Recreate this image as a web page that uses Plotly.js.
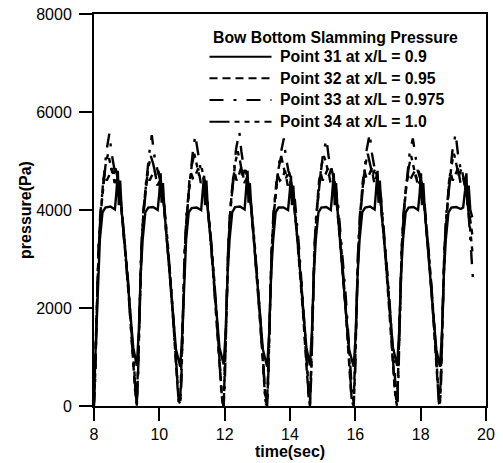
<!DOCTYPE html>
<html>
<head>
<meta charset="utf-8">
<script src="https://cdn.plot.ly/plotly-3.0.1.min.js"></script>
<style>html,body{margin:0;padding:0;background:#fff;}#chart{width:503px;height:463px;}</style>
</head>
<body>
<div id="chart"></div>
<script>
// Point 31 at x/L = 0.9 (solid)
var t31 = [8.00,8.06,8.12,8.18,8.26,8.35,8.50,8.64,8.69,8.73,8.76,8.80,8.85,8.95,9.08,9.20,
9.31,9.37,9.43,9.49,9.57,9.66,9.81,9.95,10.00,10.04,10.07,10.11,10.16,10.26,10.39,10.51,
10.64,10.70,10.76,10.82,10.90,10.99,11.14,11.28,11.33,11.37,11.40,11.44,11.49,11.59,11.72,11.84,
11.97,12.03,12.09,12.15,12.23,12.32,12.47,12.61,12.66,12.70,12.73,12.77,12.82,12.92,13.05,13.17,
13.30,13.36,13.42,13.48,13.56,13.65,13.80,13.94,13.99,14.03,14.06,14.10,14.15,14.25,14.38,14.50,
14.61,14.67,14.73,14.79,14.87,14.96,15.11,15.25,15.30,15.34,15.37,15.41,15.46,15.56,15.69,15.81,
15.95,16.01,16.07,16.13,16.21,16.30,16.45,16.59,16.64,16.68,16.71,16.75,16.80,16.90,17.03,17.15,
17.28,17.34,17.40,17.46,17.54,17.63,17.78,17.92,17.97,18.01,18.04,18.08,18.13,18.23,18.36,18.48,
18.59,18.65,18.71,18.77,18.85,18.94,19.09,19.23,19.30,19.36,19.40,19.43,19.47,19.52,19.58];
var p31 = [300,1400,2700,3400,3950,4050,4070,4010,4400,4800,4100,4600,3950,3250,2150,1200,
820,1500,2700,3400,3950,4050,4060,4000,4350,4750,4150,4550,3950,3200,2100,1150,
800,1450,2650,3400,3950,4040,4050,4000,4400,4700,4100,4600,3950,3250,2150,1200,
850,1500,2700,3400,3950,4060,4070,4010,4450,4800,4150,4550,4000,3200,2100,1150,
800,1450,2650,3350,3950,4050,4050,4000,4350,4700,4100,4500,3950,3250,2150,1200,
830,1500,2700,3400,3950,4050,4060,4000,4400,4750,4100,4550,3950,3200,2100,1150,
800,1450,2700,3400,3950,4050,4070,4010,4400,4800,4150,4600,3950,3250,2150,1200,
820,1500,2700,3400,3950,4050,4060,4000,4350,4750,4100,4550,3950,3200,2100,1150,
800,1450,2700,3400,3950,4050,4060,4020,4050,4400,4750,4100,4500,4000,3850];

// Point 32 at x/L = 0.95 (dashed)
var t32 = [8.00,8.05,8.10,8.15,8.21,8.28,8.33,8.39,8.46,8.55,8.63,8.71,8.80,8.90,9.00,9.10,9.19,9.26,
9.31,9.36,9.41,9.46,9.52,9.59,9.64,9.70,9.77,9.86,9.94,10.02,10.11,10.21,10.31,10.41,10.50,10.57,
10.64,10.69,10.74,10.79,10.85,10.92,10.97,11.03,11.10,11.19,11.27,11.35,11.44,11.54,11.64,11.74,11.83,11.90,
11.97,12.02,12.07,12.12,12.18,12.25,12.30,12.36,12.43,12.52,12.60,12.68,12.77,12.87,12.97,13.07,13.16,13.23,
13.30,13.35,13.40,13.45,13.51,13.58,13.63,13.69,13.76,13.85,13.93,14.01,14.10,14.20,14.30,14.40,14.49,14.56,
14.61,14.66,14.71,14.76,14.82,14.89,14.94,15.00,15.07,15.16,15.24,15.32,15.41,15.51,15.61,15.71,15.80,15.87,
15.95,16.00,16.05,16.10,16.16,16.23,16.28,16.34,16.41,16.50,16.58,16.66,16.75,16.85,16.95,17.05,17.14,17.21,
17.28,17.33,17.38,17.43,17.49,17.56,17.61,17.67,17.74,17.83,17.91,17.99,18.08,18.18,18.28,18.38,18.47,18.54,
18.59,18.64,18.69,18.74,18.80,18.87,18.92,18.98,19.05,19.14,19.22,19.30,19.39,19.49,19.58];
var p32 = [100,1000,2300,3300,4000,4600,4750,4600,4700,4850,4550,4650,4300,3600,2800,1900,1000,300,
50,1050,2300,3300,4000,4550,4700,4600,4700,4800,4500,4600,4300,3600,2800,1900,950,250,
100,1000,2250,3300,4000,4600,4750,4650,4700,4850,4550,4650,4300,3650,2800,1900,1000,300,
0,950,2300,3300,4050,4600,4800,4600,4700,4900,4550,4650,4300,3600,2800,1850,1000,250,
100,1000,2300,3250,4000,4550,4700,4600,4650,4800,4500,4600,4250,3600,2800,1900,950,300,
50,1000,2300,3300,4000,4600,4750,4600,4700,4850,4550,4650,4300,3600,2750,1900,1000,250,
100,1050,2300,3300,4000,4600,4800,4650,4700,4850,4550,4700,4300,3650,2800,1900,1000,300,
50,1000,2300,3300,4000,4550,4700,4600,4700,4800,4500,4600,4300,3600,2800,1850,950,250,
100,1000,2300,3300,4000,4600,4750,4600,4700,4850,4550,4650,4400,3900,3500];

// Point 33 at x/L = 0.975 (long dash - dot)
var t33 = [8.00,8.04,8.08,8.13,8.19,8.28,8.38,8.47,8.54,8.62,8.72,8.82,8.94,9.06,9.16,9.24,9.29,
9.31,9.35,9.39,9.44,9.50,9.59,9.69,9.77,9.85,9.93,10.03,10.13,10.25,10.37,10.47,10.55,10.60,
10.64,10.68,10.72,10.77,10.83,10.92,11.02,11.10,11.18,11.26,11.36,11.46,11.58,11.70,11.80,11.88,11.93,
11.97,12.01,12.05,12.10,12.16,12.25,12.35,12.45,12.51,12.59,12.69,12.79,12.91,13.03,13.13,13.21,13.26,
13.30,13.34,13.38,13.43,13.49,13.58,13.70,13.81,13.87,13.95,14.05,14.15,14.27,14.39,14.48,14.55,14.58,
14.61,14.65,14.69,14.74,14.80,14.89,15.01,15.12,15.18,15.26,15.36,15.46,15.58,15.70,15.80,15.88,15.92,
15.95,15.99,16.03,16.08,16.14,16.23,16.34,16.44,16.51,16.59,16.69,16.79,16.91,17.03,17.13,17.21,17.25,
17.28,17.32,17.36,17.41,17.47,17.56,17.66,17.76,17.83,17.91,18.01,18.11,18.23,18.35,18.45,18.52,18.56,
18.59,18.63,18.67,18.72,18.78,18.87,18.97,19.07,19.14,19.22,19.32,19.42,19.50,19.60];
var p33 = [0,600,1800,3100,3900,4500,5200,5560,5150,4850,4650,4200,3300,2300,1300,500,80,
0,650,1850,3100,3900,4500,5150,5525,5100,4850,4600,4200,3250,2300,1300,450,50,
0,600,1800,3050,3900,4500,5150,5525,5150,4850,4650,4250,3300,2300,1350,500,80,
0,600,1800,3100,3950,4550,5250,5590,5200,4850,4650,4200,3300,2300,1300,500,50,
0,600,1750,3100,3900,4500,5100,5460,5100,4800,4600,4200,3300,2250,1300,450,80,
0,600,1800,3100,3900,4500,5150,5440,5100,4800,4600,4200,3250,2300,1300,500,50,
0,650,1800,3100,3900,4500,5200,5560,5150,4850,4650,4250,3300,2300,1300,500,80,
0,600,1800,3050,3900,4500,5150,5460,5100,4800,4600,4200,3300,2300,1300,450,50,
0,600,1800,3100,3900,4500,5200,5560,5150,4850,4650,4400,3500,2600];

// Point 34 at x/L = 1.0 (long dash - dot dot dot)
var t34 = [8.00,8.04,8.09,8.14,8.20,8.27,8.35,8.43,8.50,8.58,8.66,8.74,8.84,8.95,9.05,9.14,9.22,9.28,
9.31,9.35,9.40,9.45,9.51,9.58,9.66,9.74,9.81,9.89,9.97,10.05,10.15,10.26,10.36,10.45,10.53,10.59,
10.64,10.68,10.73,10.78,10.84,10.91,10.99,11.07,11.14,11.22,11.30,11.38,11.48,11.59,11.69,11.78,11.86,11.92,
11.97,12.01,12.06,12.11,12.17,12.24,12.32,12.40,12.47,12.55,12.63,12.71,12.81,12.92,13.02,13.11,13.19,13.25,
13.30,13.34,13.39,13.44,13.50,13.57,13.65,13.73,13.80,13.88,13.96,14.04,14.14,14.25,14.35,14.44,14.52,14.58,
14.61,14.65,14.70,14.75,14.81,14.88,14.96,15.04,15.11,15.19,15.27,15.35,15.45,15.56,15.66,15.75,15.83,15.89,
15.95,15.99,16.04,16.09,16.15,16.22,16.30,16.38,16.45,16.53,16.61,16.69,16.79,16.90,17.00,17.09,17.17,17.23,
17.28,17.32,17.37,17.42,17.48,17.55,17.63,17.71,17.78,17.86,17.94,18.02,18.12,18.23,18.33,18.42,18.50,18.56,
18.59,18.63,18.68,18.73,18.79,18.86,18.94,19.02,19.09,19.17,19.25,19.33,19.43,19.52,19.59];
var p34 = [50,700,2000,3200,3900,4400,4900,5150,4950,4700,4850,4600,4100,3300,2500,1600,800,150,
0,700,2000,3200,3900,4400,4850,5100,4950,4700,4800,4550,4100,3300,2500,1600,750,100,
50,700,1950,3200,3900,4400,4900,5150,4950,4700,4850,4600,4100,3350,2500,1600,800,150,
0,750,2000,3250,3950,4450,4950,5200,5000,4700,4850,4600,4100,3300,2450,1600,800,100,
50,700,2000,3200,3900,4400,4850,5100,4900,4650,4800,4550,4100,3300,2500,1550,750,150,
0,700,2000,3200,3900,4400,4900,5100,4950,4700,4850,4600,4100,3300,2500,1600,800,100,
50,700,2000,3200,3900,4400,4900,5150,4950,4700,4850,4600,4150,3300,2500,1600,800,150,
0,700,1950,3200,3900,4400,4850,5100,4900,4650,4800,4550,4100,3300,2450,1600,750,100,
50,700,2000,3200,3900,4400,4900,5150,4950,4700,4850,4600,4200,3600,3100];

var seriesNames = ['Point 31 at x/L = 0.9','Point 32 at x/L = 0.95','Point 33 at x/L = 0.975','Point 34 at x/L = 1.0'];
var legendTitle = 'Bow Bottom Slamming Pressure';
var xTicks = [8,10,12,14,16,18,20];
var yTicks = [0,2000,4000,6000,8000];

var dashes = ['solid','8px,5px','14px,10px,3px,10px','20px,5px,5px,5px,5px,5px,5px,5px'];
var xs = [t31,t32,t33,t34];
var ys = [p31,p32,p33,p34];

var FONT = 'Liberation Sans, Arial, Helvetica, sans-serif';
var traces = [];
for (var i = 0; i < 4; i++) {
  traces.push({
    x: xs[i], y: ys[i], type: 'scatter', mode: 'lines', name: seriesNames[i],
    line: {color: '#000', width: 2.4, dash: dashes[i]}, showlegend: false, hoverinfo: 'skip'
  });
}

// manual legend (positions in paper units)
var L = 94, T = 14, W = 392, H = 392;
function px(x){ return (x - L) / W; }
function py(y){ return (T + H - y) / H; }
var rowY = [56.7, 78.3, 100, 121.7];
var shapes = [], annotations = [];
annotations.push({xref:'paper', yref:'paper', x: px(335), y: py(37.5), xanchor:'center', yanchor:'middle',
  text:'<b>' + legendTitle + '</b>', showarrow:false, font:{family:FONT, size:15.8, color:'#000'}});
for (var k = 0; k < 4; k++) {
  shapes.push({type:'line', xref:'paper', yref:'paper', x0: px(209.5), x1: px(271.5), y0: py(rowY[k]), y1: py(rowY[k]),
    line:{color:'#000', width:2, dash: dashes[k]}});
  annotations.push({xref:'paper', yref:'paper', x: px(277.5), y: py(rowY[k]), xanchor:'left', yanchor:'middle',
    text:'<b>' + seriesNames[k] + '</b>', showarrow:false, font:{family:FONT, size:15.8, color:'#000'}});
}

var layout = {
  width: 503, height: 463,
  margin: {l: L, r: 503 - L - W, t: T, b: 463 - T - H, pad: 0},
  paper_bgcolor: '#fff', plot_bgcolor: '#fff',
  font: {family: FONT, size: 16, color: '#000'},
  showlegend: false,
  xaxis: {
    range: [8, 20], tickvals: xTicks, ticktext: xTicks.map(String),
    ticks: 'outside', ticklen: 13, tickwidth: 2, tickcolor: '#000',
    showline: true, linewidth: 2, linecolor: '#000', mirror: true,
    showgrid: false, zeroline: false, automargin: false,
    tickfont: {family: FONT, size: 16, color: '#000'},
    title: {text: '<b>time(sec)</b>', font: {family: FONT, size: 16, color: '#000'}, standoff: 2}
  },
  yaxis: {
    range: [0, 8000], tickvals: yTicks, ticktext: yTicks.map(String),
    ticks: 'outside', ticklen: 13, tickwidth: 2, tickcolor: '#000',
    showline: true, linewidth: 2, linecolor: '#000', mirror: true,
    showgrid: false, zeroline: false, automargin: false,
    ticklabelstandoff: 4,
    tickfont: {family: FONT, size: 16, color: '#000'},
    title: {text: '<b>pressure(Pa)</b>', font: {family: FONT, size: 16, color: '#000'}, standoff: 1}
  },
  shapes: shapes,
  annotations: annotations
};

Plotly.newPlot('chart', traces, layout, {staticPlot: true, displayModeBar: false});
</script>
</body>
</html>
